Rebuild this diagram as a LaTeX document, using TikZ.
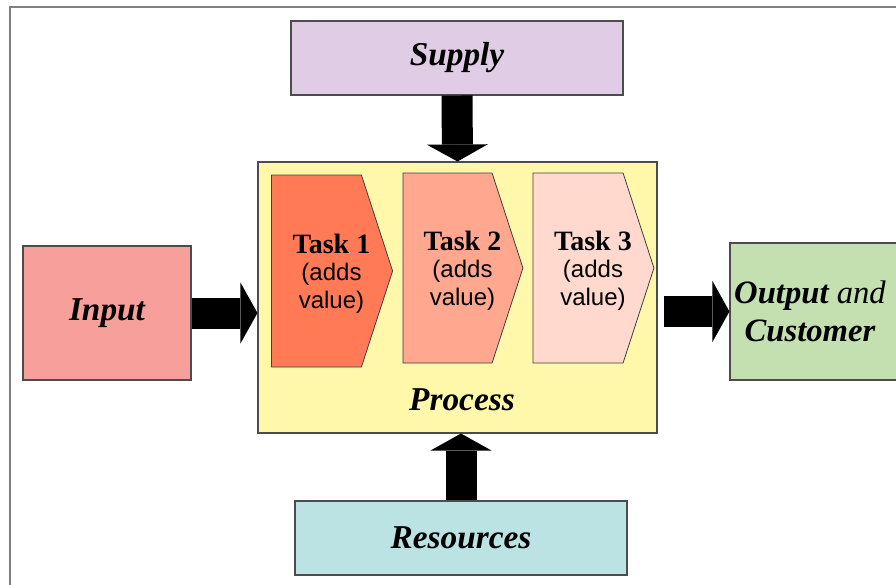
\documentclass[tikz,border=0pt]{standalone}
\usepackage{fontspec}
\setmainfont{Liberation Serif}
\setsansfont{Liberation Sans}
\usetikzlibrary{arrows.meta,shapes.symbols}

\definecolor{supplyfill}{HTML}{E0CCE4}
\definecolor{processfill}{HTML}{FFF7AA}
\definecolor{taskonefill}{HTML}{FF7A55}
\definecolor{tasktwofill}{HTML}{FFA78F}
\definecolor{taskthreefill}{HTML}{FFD9CD}
\definecolor{inputfill}{HTML}{F7A09B}
\definecolor{outputfill}{HTML}{C4DFB0}
\definecolor{resourcefill}{HTML}{BCE3E3}

\begin{document}
\begin{tikzpicture}[
    x=0.75pt, y=-0.75pt,
    box/.style={draw=black!70, line width=0.8pt, inner sep=0pt, align=center},
    bigtext/.style={font=\fontsize{25}{29}\selectfont\bfseries\itshape},
    task/.style={signal, signal to=east, signal pointer angle=144,
        draw=black!75, line width=0.6pt, inner sep=0pt},
    tasktext/.style={align=center, font=\fontsize{18}{20.5}\selectfont},
    flow/.style={line width=23.25pt,
        -{Triangle[length=12.75pt, width=45.75pt, line width=0pt]}}
]

\def\px{0.75pt}

\useasboundingbox (0,0) rectangle (896,585);

% -------------------------------------------------
% Frame
% -------------------------------------------------

\draw[gray, line width=1.5pt]
  (10,585) -- (10,7) -- (896,7);

% -------------------------------------------------
% Boxes
% -------------------------------------------------

\node[box, fill=supplyfill,
    minimum width=332*\px, minimum height=74*\px]
  (supply) at (457,58) {};
\node[bigtext] (supplytext) at (supply) {Supply};

\node[box, fill=processfill,
    minimum width=399*\px, minimum height=271*\px]
  (process) at (457.5,297.5) {};

\node[box, fill=inputfill,
    minimum width=168*\px, minimum height=134*\px]
  (input) at (107,313) {};
\node[bigtext] (inputtext) at (input) {Input};

\node[box, fill=outputfill,
    minimum width=170*\px, minimum height=137*\px]
  (output) at (815,311.5) {};
\node[font=\fontsize{24.5}{28}\selectfont\itshape, align=center]
  (outputtext) at (810,311.5)
  {\textbf{Output} and\\\textbf{Customer}};

\node[box, fill=resourcefill,
    minimum width=332*\px, minimum height=74*\px]
  (resources) at (461,538) {};
\node[bigtext] (resourcestext) at (resources) {Resources};

% -------------------------------------------------
% Tasks inside the process
% (signal body centred at the node, text centred on the whole shape)
% -------------------------------------------------

\node[task, fill=taskonefill,
    minimum width=121*\px, minimum height=192*\px]
  (task1) at (316.5,271) {};
\node[tasktext] (task1text) at ([xshift=15*\px, yshift=-2.5*\px]task1.center)
  {\fontsize{21}{20.5}\selectfont\textbf{Task 1}\\\textsf{(adds}\\\textsf{value)}};

\node[task, fill=tasktwofill,
    minimum width=120*\px, minimum height=190*\px]
  (task2) at (447.5,268) {};
\node[tasktext] (task2text) at ([xshift=15*\px, yshift=-2.5*\px]task2.center)
  {\fontsize{21}{20.5}\selectfont\textbf{Task 2}\\\textsf{(adds}\\\textsf{value)}};

\node[task, fill=taskthreefill,
    minimum width=121*\px, minimum height=190*\px]
  (task3) at (578,268) {};
\node[tasktext] (task3text) at ([xshift=15*\px, yshift=-2.5*\px]task3.center)
  {\fontsize{21}{20.5}\selectfont\textbf{Task 3}\\\textsf{(adds}\\\textsf{value)}};

\node[bigtext] (processtext) at (462,400) {Process};

% -------------------------------------------------
% Flows into and out of the process
% -------------------------------------------------

\draw[flow] (supply.south) -- (process.north);

\draw[flow] (resources.north) -- (resources.north |- process.south);

\draw[flow] (input.east) -- (input.east -| process.west);

\draw[flow, shorten <=4.5pt]
  (process.east |- output.west) -- (output.west);

\end{tikzpicture}
\end{document}
